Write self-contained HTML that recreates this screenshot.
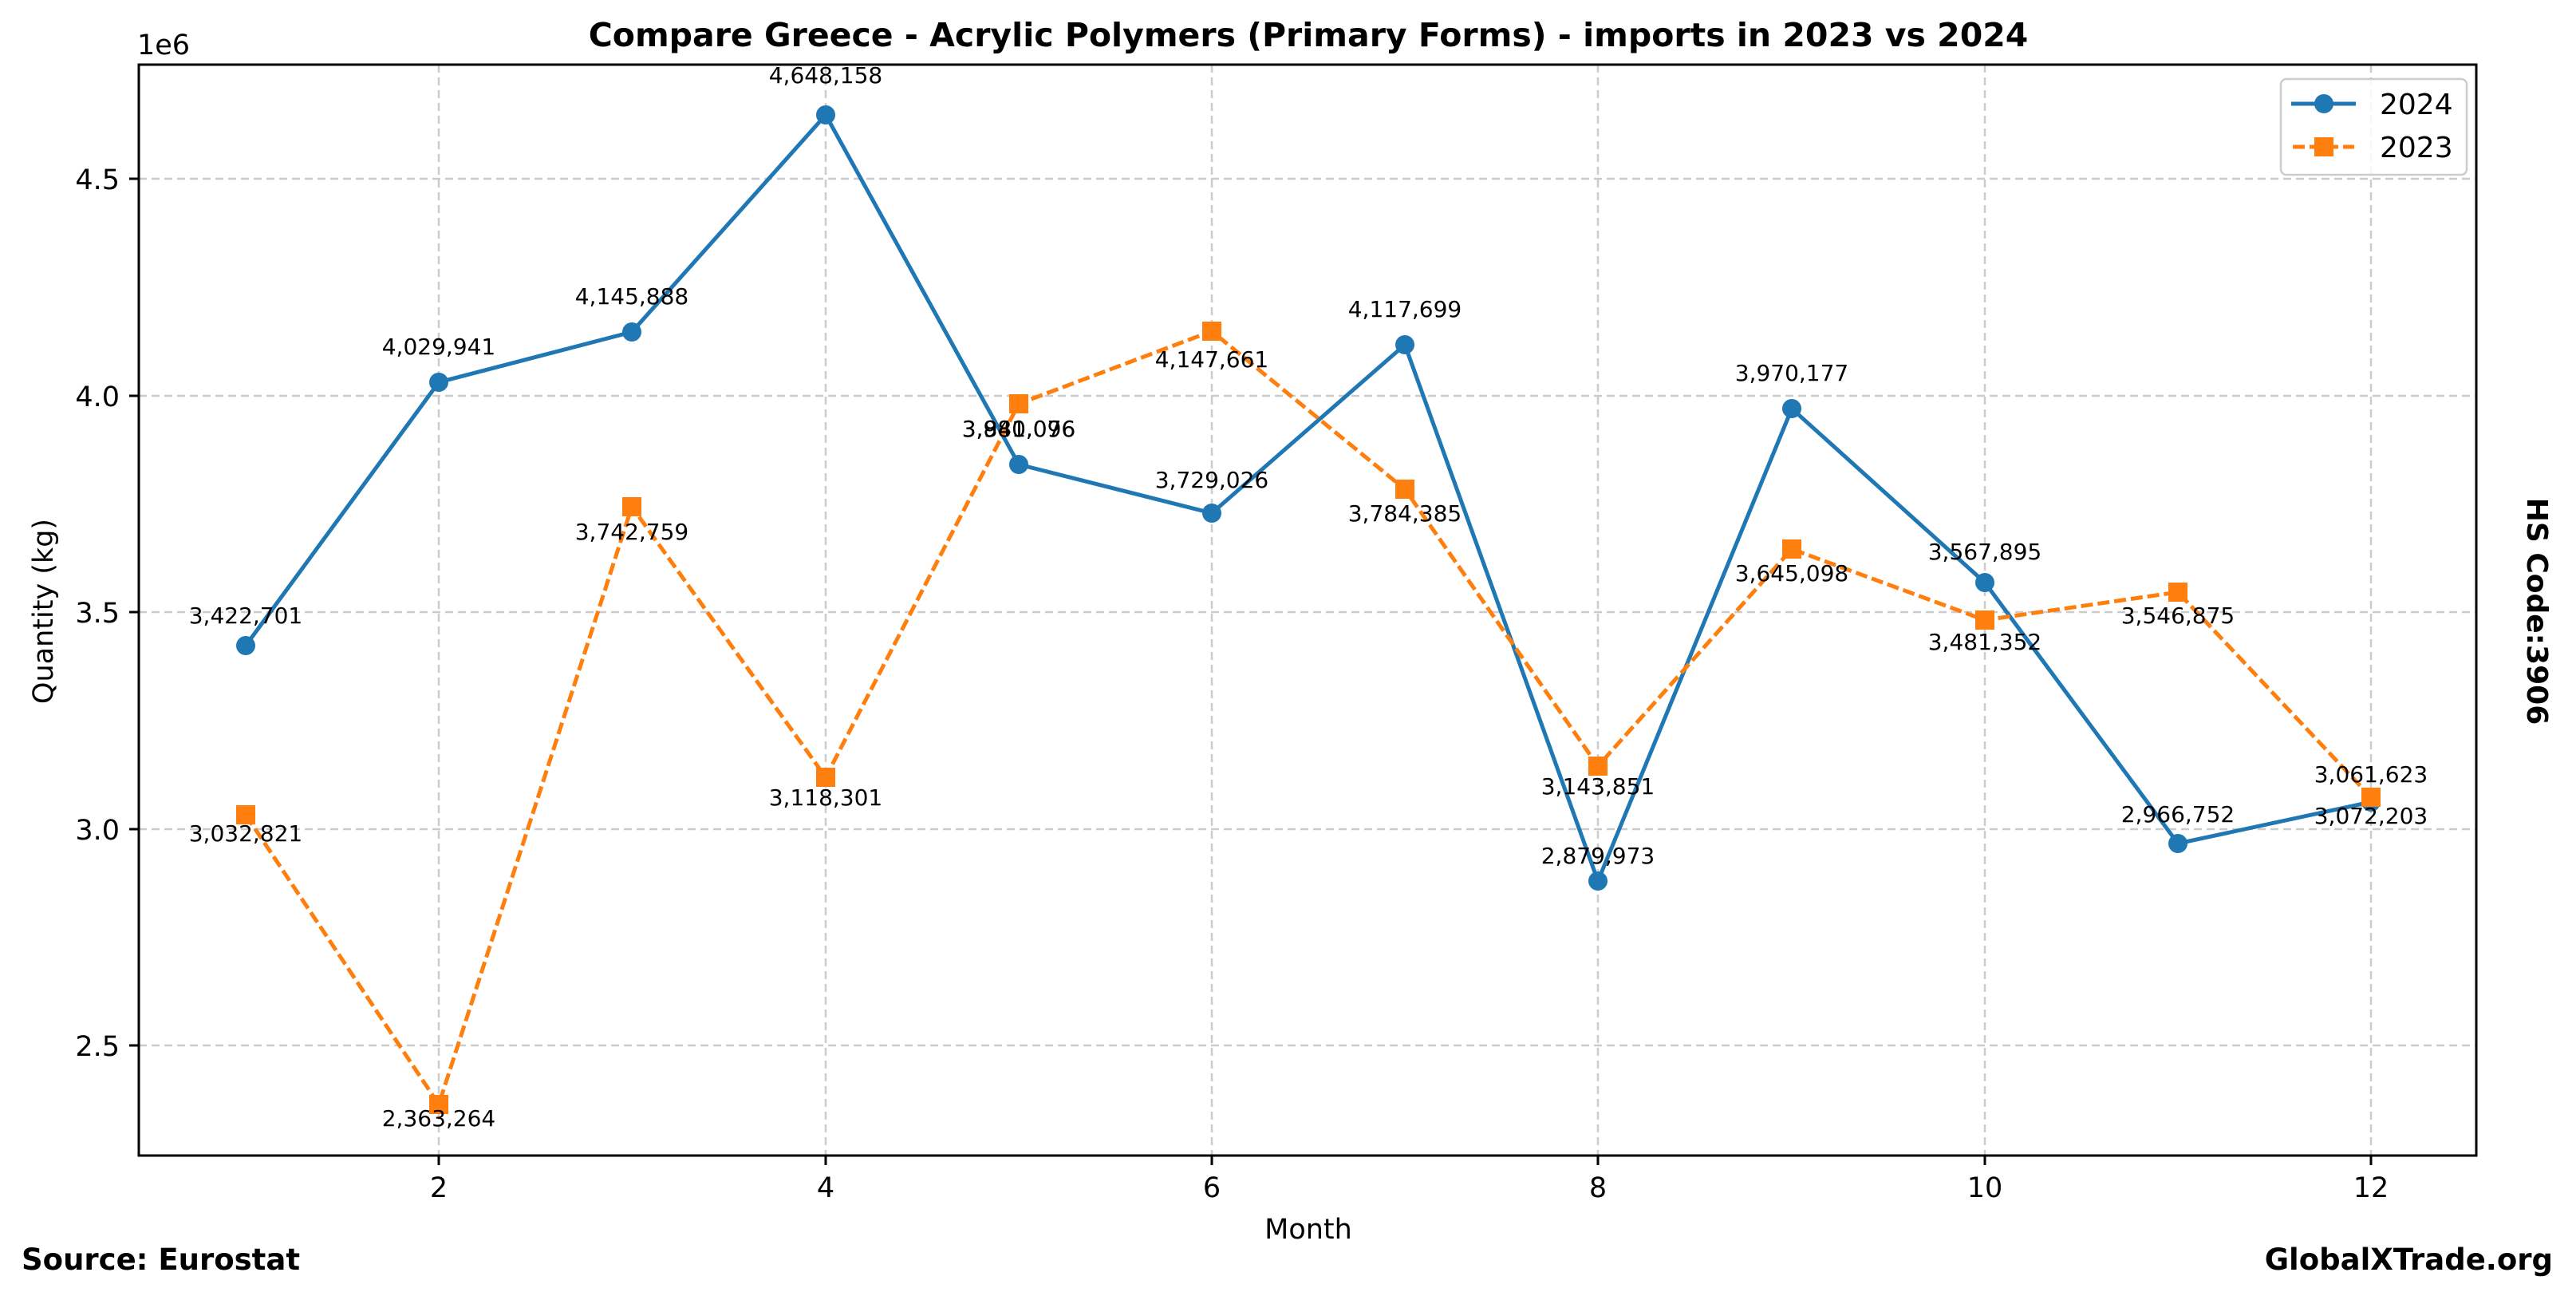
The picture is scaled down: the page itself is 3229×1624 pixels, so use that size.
<!DOCTYPE html>
<html><head><meta charset="utf-8"><style>body{margin:0;background:#fff}svg{display:block}</style></head>
<body>
<svg width="3229" height="1624" xmlns="http://www.w3.org/2000/svg" font-family="DejaVu Sans, Liberation Sans, sans-serif">
<rect width="3229" height="1624" fill="#fff"/>
<g stroke="#cccccc" stroke-width="2.5" stroke-dasharray="10,6" fill="none">
<line x1="550" y1="81" x2="550" y2="1448"/><line x1="1035" y1="81" x2="1035" y2="1448"/><line x1="1519" y1="81" x2="1519" y2="1448"/><line x1="2003" y1="81" x2="2003" y2="1448"/><line x1="2488" y1="81" x2="2488" y2="1448"/><line x1="2972" y1="81" x2="2972" y2="1448"/>
<line x1="174" y1="224" x2="3104" y2="224"/><line x1="174" y1="496" x2="3104" y2="496"/><line x1="174" y1="767" x2="3104" y2="767"/><line x1="174" y1="1039" x2="3104" y2="1039"/><line x1="174" y1="1310" x2="3104" y2="1310"/>
</g>
<g stroke="#000" stroke-width="3">
<line x1="550" y1="1448" x2="550" y2="1460"/><line x1="1035" y1="1448" x2="1035" y2="1460"/><line x1="1519" y1="1448" x2="1519" y2="1460"/><line x1="2003" y1="1448" x2="2003" y2="1460"/><line x1="2488" y1="1448" x2="2488" y2="1460"/><line x1="2972" y1="1448" x2="2972" y2="1460"/>
<line x1="162" y1="224" x2="174" y2="224"/><line x1="162" y1="496" x2="174" y2="496"/><line x1="162" y1="767" x2="174" y2="767"/><line x1="162" y1="1039" x2="174" y2="1039"/><line x1="162" y1="1310" x2="174" y2="1310"/>
</g>
<g font-size="35" fill="#000" text-anchor="middle">
<text x="550" y="1500">2</text><text x="1035" y="1500">4</text><text x="1519" y="1500">6</text><text x="2003" y="1500">8</text><text x="2488" y="1500">10</text><text x="2972" y="1500">12</text>
</g>
<g font-size="35" fill="#000" text-anchor="end">
<text x="150" y="237">4.5</text><text x="150" y="509">4.0</text><text x="150" y="780">3.5</text><text x="150" y="1052">3.0</text><text x="150" y="1323">2.5</text>
</g>
<text x="172" y="68" font-size="35">1e6</text>
<text x="1640" y="1552" font-size="35" text-anchor="middle">Month</text>
<text transform="translate(66,766) rotate(-90)" font-size="35" text-anchor="middle">Quantity (kg)</text>
<text x="1640" y="58" font-size="41" font-weight="bold" text-anchor="middle">Compare Greece - Acrylic Polymers (Primary Forms) - imports in 2023 vs 2024</text>
<text transform="translate(3168,766) rotate(90)" font-size="36" font-weight="bold" text-anchor="middle">HS Code:3906</text>
<text x="27" y="1591" font-size="37" font-weight="bold">Source: Eurostat</text>
<text x="3200" y="1591" font-size="37" font-weight="bold" text-anchor="end">GlobalXTrade.org</text>

<polyline fill="none" stroke="#1f77b4" stroke-width="5" points="308,809 550,479 792,416 1035,144 1277,582 1519,643 1761,432 2003,1104 2246,512 2488,730 2730,1057 2972,1005"/>
<polyline fill="none" stroke="#ff7f0e" stroke-width="5" stroke-dasharray="15,6" points="308,1021 550,1384 792,635 1035,974 1277,506 1519,415 1761,613 2003,960 2246,688 2488,777 2730,742 2972,999"/>
<g fill="#1f77b4">
<circle cx="308" cy="809" r="12"/><circle cx="550" cy="479" r="12"/><circle cx="792" cy="416" r="12"/><circle cx="1035" cy="144" r="12"/><circle cx="1277" cy="582" r="12"/><circle cx="1519" cy="643" r="12"/><circle cx="1761" cy="432" r="12"/><circle cx="2003" cy="1104" r="12"/><circle cx="2246" cy="512" r="12"/><circle cx="2488" cy="730" r="12"/><circle cx="2730" cy="1057" r="12"/><circle cx="2972" cy="1005" r="12"/>
</g>
<g fill="#ff7f0e">
<rect x="296" y="1009" width="24" height="24"/><rect x="538" y="1372" width="24" height="24"/><rect x="780" y="623" width="24" height="24"/><rect x="1023" y="962" width="24" height="24"/><rect x="1265" y="494" width="24" height="24"/><rect x="1507" y="403" width="24" height="24"/><rect x="1749" y="601" width="24" height="24"/><rect x="1991" y="948" width="24" height="24"/><rect x="2234" y="676" width="24" height="24"/><rect x="2476" y="765" width="24" height="24"/><rect x="2718" y="730" width="24" height="24"/><rect x="2960" y="987" width="24" height="24"/>
</g>
<g font-size="28" fill="#000" text-anchor="middle">
<text x="308" y="781">3,422,701</text><text x="550" y="444">4,029,941</text><text x="792" y="381">4,145,888</text><text x="1035" y="104">4,648,158</text><text x="1277" y="547">3,840,096</text><text x="1519" y="611">3,729,026</text><text x="1761" y="397">4,117,699</text><text x="2003" y="1082">2,879,973</text><text x="2246" y="477">3,970,177</text><text x="2488" y="701">3,567,895</text><text x="2730" y="1030">2,966,752</text><text x="2972" y="980">3,061,623</text>
<text x="308" y="1054">3,032,821</text><text x="550" y="1411">2,363,264</text><text x="792" y="676">3,742,759</text><text x="1035" y="1009">3,118,301</text><text x="1277" y="547">3,981,076</text><text x="1519" y="460">4,147,661</text><text x="1761" y="653">3,784,385</text><text x="2003" y="995">3,143,851</text><text x="2246" y="728">3,645,098</text><text x="2488" y="814">3,481,352</text><text x="2730" y="781">3,546,875</text><text x="2972" y="1032">3,072,203</text>
</g>

<rect x="174" y="81" width="2930" height="1367" fill="none" stroke="#000" stroke-width="3"/>
<rect x="2859" y="99" width="233" height="120" rx="7" fill="#fff" fill-opacity="0.85" stroke="#cccccc" stroke-width="2.5"/>
<line x1="2872" y1="130" x2="2953" y2="130" stroke="#1f77b4" stroke-width="5"/>
<circle cx="2913" cy="130" r="12" fill="#1f77b4"/>
<line x1="2874" y1="184" x2="2951" y2="184" stroke="#ff7f0e" stroke-width="5" stroke-dasharray="15,6"/>
<rect x="2901" y="172" width="24" height="24" fill="#ff7f0e"/>
<text x="2983" y="143" font-size="36">2024</text>
<text x="2983" y="197" font-size="36">2023</text>
</svg>
</body></html>
